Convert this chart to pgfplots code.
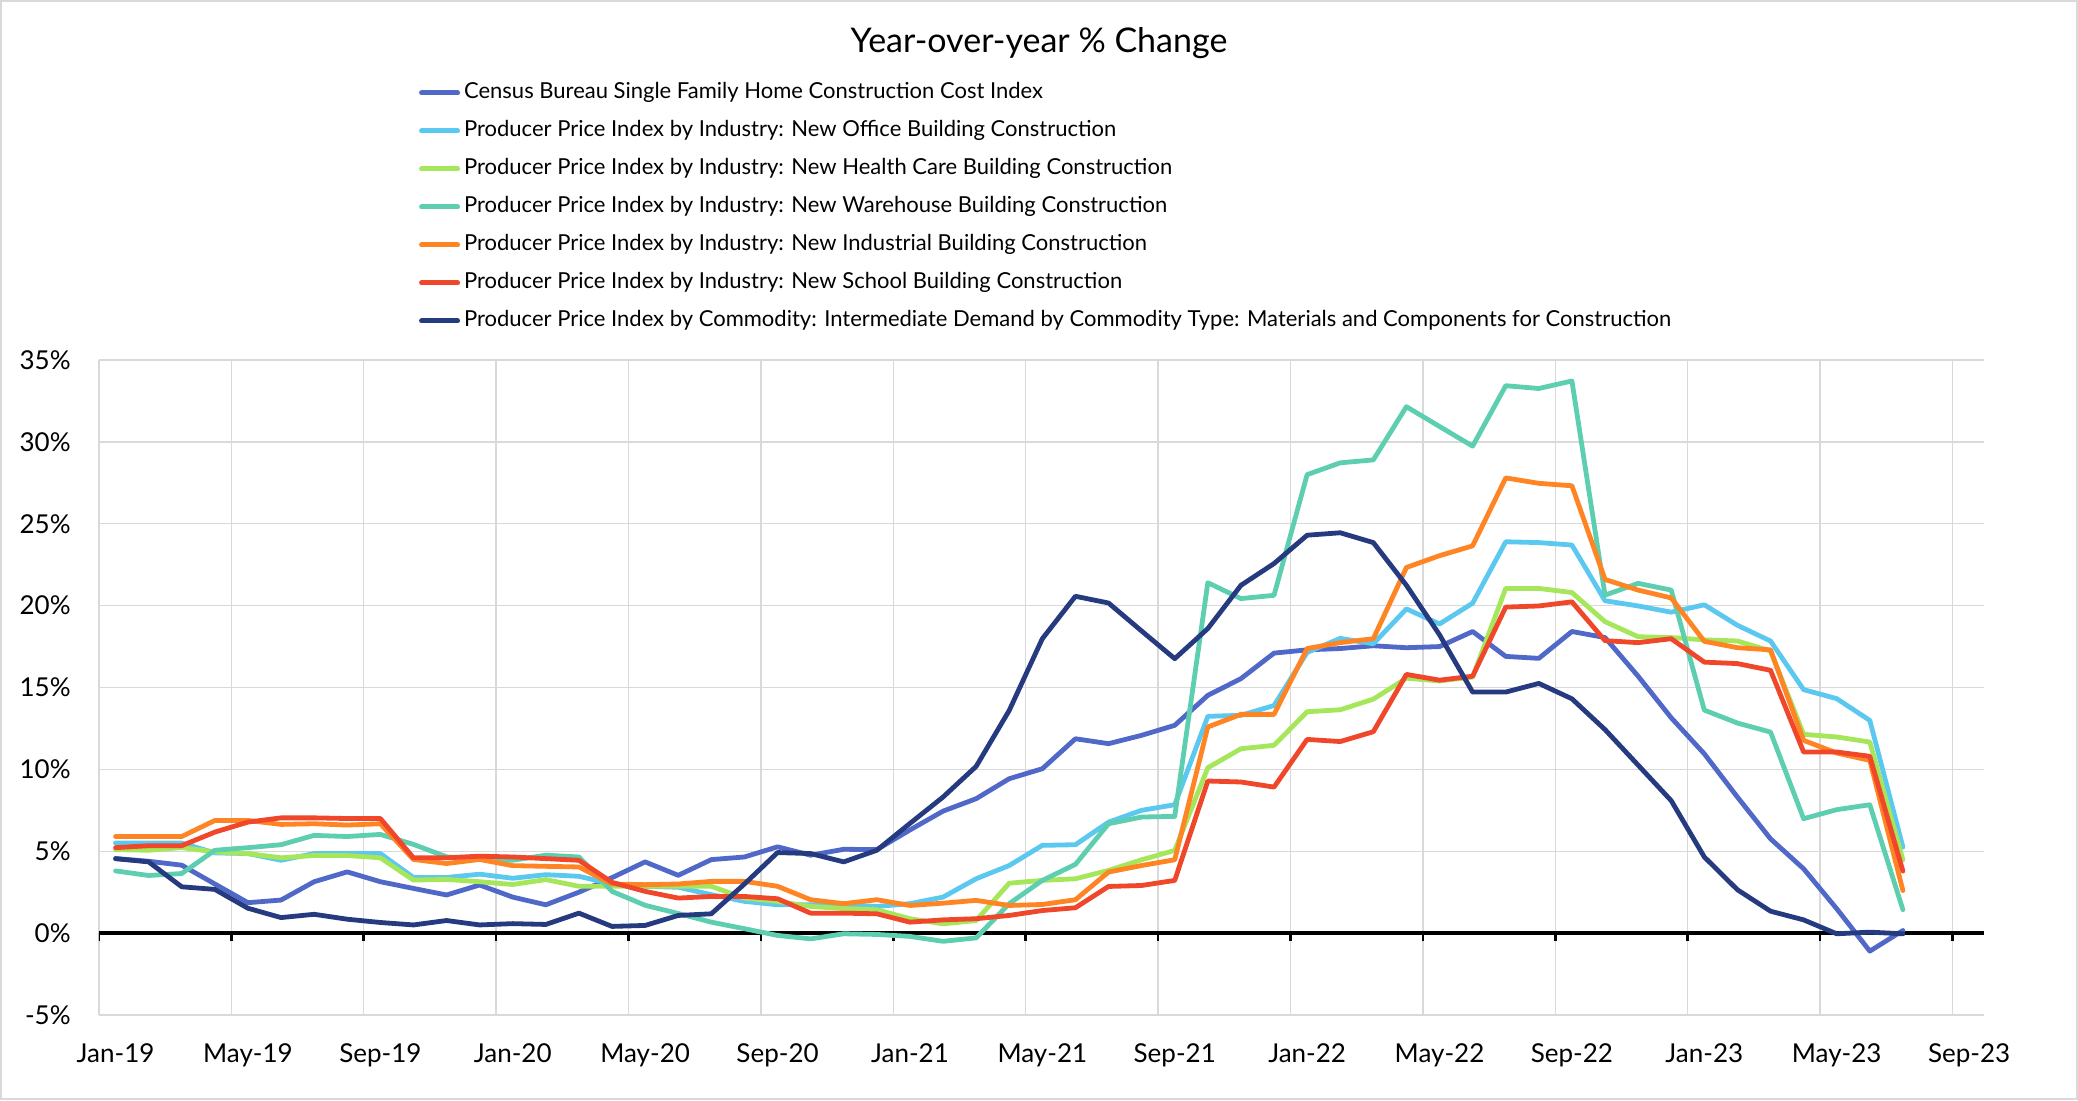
\documentclass[border=0pt]{standalone}
\usepackage{fontspec}
\setmainfont{Lato}
\usepackage{pgfplots}
\usepackage{pgfplotstable}
\pgfplotsset{compat=1.18}

\definecolor{census}{HTML}{5068C8}
\definecolor{office}{HTML}{5BC8F0}
\definecolor{health}{HTML}{A5E65A}
\definecolor{warehouse}{HTML}{5DCFB0}
\definecolor{industrial}{HTML}{FF8424}
\definecolor{school}{HTML}{F0462A}
\definecolor{commodity}{HTML}{263A80}
\definecolor{gridgray}{HTML}{D9D9D9}

% month index (0 = Jan-19), points sit mid-month
\pgfplotstableread{
x     census office health warehouse industrial school commodity
0.5   4.55   5.50   5.10   3.80   5.90   5.22   4.55
1.5   4.39   5.50   5.06   3.52   5.90   5.34   4.35
2.5   4.15   5.50   5.22   3.64   5.90   5.34   2.83
3.5   3.00   4.90   4.96   5.06   6.88   6.17   2.67
4.5   1.86   4.86   4.86   5.22   6.88   6.78   1.52
5.5   2.02   4.45   4.60   5.40   6.64   7.04   0.95
6.5   3.14   4.86   4.74   5.97   6.68   7.04   1.15
7.5   3.74   4.86   4.74   5.90   6.60   7.00   0.85
8.5   3.14   4.86   4.60   6.03   6.68   7.00   0.65
9.5   2.73   3.40   3.24   5.42   4.50   4.60   0.50
10.5  2.33   3.40   3.28   4.66   4.25   4.60   0.77
11.5  2.94   3.60   3.14   4.50   4.50   4.70   0.50
12.5  2.20   3.35   2.97   4.45   4.12   4.65   0.58
13.5  1.73   3.57   3.27   4.76   4.08   4.55   0.53
14.5  2.50   3.47   2.86   4.65   4.04   4.45   1.22
15.5  3.39   3.00   2.86   2.55   3.00   3.10   0.41
16.5  4.35   2.86   2.86   1.70   2.96   2.55   0.47
17.5  3.53   2.80   2.86   1.20   3.00   2.14   1.08
18.5  4.49   2.35   2.86   0.67   3.16   2.24   1.18
19.5  4.65   1.94   2.14   0.27   3.16   2.24   3.00
20.5  5.27   1.73   1.94  -0.14   2.86   2.10   4.92
21.5  4.76   1.73   1.63  -0.35   2.04   1.22   4.86
22.5  5.12   1.73   1.50  -0.04   1.80   1.22   4.35
23.5  5.10   1.63   1.43  -0.08   2.04   1.18   5.06
24.5  6.30   1.80   0.88  -0.20   1.69   0.67   6.70
25.5  7.45   2.20   0.57  -0.50   1.83   0.81   8.31
26.5  8.21   3.32   0.77  -0.29   2.00   0.88  10.18
27.5  9.43   4.13   3.05   1.80   1.69   1.08  13.60
28.5 10.04   5.36   3.22   3.22   1.75   1.38  17.98
29.5 11.87   5.40   3.32   4.20   2.04   1.55  20.57
30.5 11.57   6.78   3.83   6.68   3.73   2.85  20.16
31.5 12.08   7.50   4.48   7.09   4.13   2.91  18.45
32.5 12.69   7.84   5.05   7.13   4.48   3.22  16.76
33.5 14.52  13.24  10.10  21.40  12.59   9.29  18.60
34.5 15.54  13.30  11.26  20.43  13.36   9.23  21.24
35.5 17.10  13.90  11.47  20.63  13.36   8.92  22.57
36.5 17.30  17.14  13.52  28.00  17.38  11.83  24.30
37.5 17.38  18.00  13.64  28.72  17.74  11.70  24.45
38.5 17.55  17.67  14.29  28.90  17.98  12.30  23.85
39.5 17.43  19.80  15.57  32.15  22.33  15.80  21.24
40.5 17.50  18.88  15.40  30.94  23.05  15.45  18.22
41.5 18.42  20.15  15.64  29.74  23.65  15.69  14.72
42.5 16.90  23.90  21.05  33.43  27.80  19.91  14.72
43.5 16.78  23.85  21.05  33.26  27.47  19.98  15.25
44.5 18.42  23.70  20.80  33.72  27.32  20.23  14.31
45.5 18.05  20.30  19.02  20.64  21.60  17.86  12.43
46.5 15.69  19.98  18.10  21.36  20.95  17.74  10.26
47.5 13.15  19.60  18.05  20.95  20.47  17.98   8.09
48.5 10.95  20.05  17.91  13.62  17.82  16.55   4.65
49.5  8.31  18.80  17.84  12.83  17.43  16.46   2.65
50.5  5.76  17.84  17.23  12.28  17.30  16.05   1.34
51.5  3.93  14.87  12.14   6.99  11.77  11.06   0.81
52.5  1.49  14.32  11.98   7.54  11.00  11.06  -0.04
53.5 -1.10  12.99  11.67   7.84  10.55  10.80   0.06
54.5  0.16   5.25   4.48   1.43   2.60   3.79  -0.04
}\datatable

\begin{document}
\begin{tikzpicture}
\useasboundingbox (0,0) rectangle (1039pt,550pt);
\draw[gridgray, line width=1pt] (0.5pt,0.5pt) rectangle (1038.5pt,549.5pt);
\begin{axis}[
    at={(49.5pt,42.5pt)}, anchor=south west,
    scale only axis, width=942.5pt, height=327.5pt,
    xmin=0, xmax=56.95, ymin=-5, ymax=35,
    axis line style={draw=none},
    major tick length=0pt, minor tick length=0pt,
    xtick={0.5,4.5,...,56.5},
    xticklabels={Jan-19,May-19,Sep-19,Jan-20,May-20,Sep-20,Jan-21,May-21,Sep-21,Jan-22,May-22,Sep-22,Jan-23,May-23,Sep-23},
    minor xtick={0,4,...,56},
    xminorgrids, xmajorgrids=false,
    ytick={-5,0,...,35},
    yticklabels={-5\%,0\%,5\%,10\%,15\%,20\%,25\%,30\%,35\%},
    ymajorgrids,
    grid style={gridgray, line width=0.7pt},
    minor grid style={gridgray, line width=0.7pt},
    tick label style={font=\fontsize{13}{15}\selectfont, black},
    xticklabel style={anchor=base, inner sep=0pt, yshift=-23.5pt},
    yticklabel style={anchor=east, inner sep=0pt, xshift=-14pt},
    title={Year-over-year \% Change},
    title style={at={(axis description cs:0.4987,1.4513)}, anchor=base, inner sep=0pt, font=\fontsize{17}{20}\selectfont},
    legend cell align=left,
    legend image code/.code={\draw[#1, line width=2.5pt, line cap=round] (1.25pt,0pt) -- (19.25pt,0pt);},
    legend style={at={(axis description cs:0.1698,1.4237)}, anchor=north west,
        draw=none, fill=none, inner sep=0pt, outer sep=0pt,
        font=\fontsize{11}{12}\selectfont, row sep=8.5pt,
        nodes={inner sep=0pt, text height=8pt, text depth=2.5pt},
        /tikz/every odd column/.style={column sep=2pt}},
    every axis plot/.append style={line width=2.4pt, line join=round, line cap=round, mark=none},
]
\draw[black, line width=1.8pt] (axis cs:0,0) -- (axis cs:56.95,0);
\pgfplotsinvokeforeach{0,4,...,56}{\draw[black, line width=1.3pt] (axis cs:#1,0) -- ++(0pt,-4pt);}
\addplot[census] table[x=x, y=census] {\datatable};
\addplot[office] table[x=x, y=office] {\datatable};
\addplot[health] table[x=x, y=health] {\datatable};
\addplot[warehouse] table[x=x, y=warehouse] {\datatable};
\addplot[industrial] table[x=x, y=industrial] {\datatable};
\addplot[school] table[x=x, y=school] {\datatable};
\addplot[commodity] table[x=x, y=commodity] {\datatable};
\legend{Census Bureau Single Family Home Construction Cost Index,
Producer Price Index by Industry: New Office Building Construction,
Producer Price Index by Industry: New Health Care Building Construction,
Producer Price Index by Industry: New Warehouse Building Construction,
Producer Price Index by Industry: New Industrial Building Construction,
Producer Price Index by Industry: New School Building Construction,
Producer Price Index by Commodity: Intermediate Demand by Commodity Type: Materials and Components for Construction}
\end{axis}
\end{tikzpicture}
\end{document}
